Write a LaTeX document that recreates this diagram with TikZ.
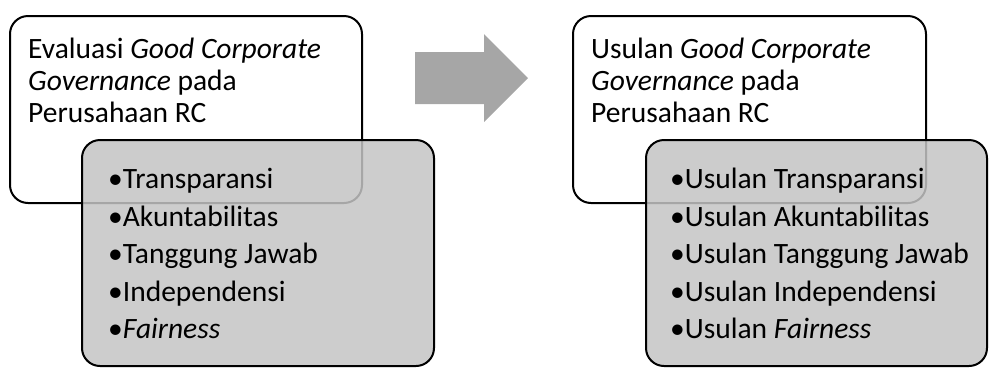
\documentclass[tikz,border=0pt]{standalone}
\usepackage{fontspec}
\setmainfont{Carlito}
\begin{document}
\begin{tikzpicture}[x=1pt,y=-1pt,
  whitebox/.style={draw=black,line width=2pt,rounded corners=18pt,fill=white},
  greybox/.style={draw=black,line width=2pt,rounded corners=18pt,fill={rgb,255:red,196;green,196;blue,196},fill opacity=0.85},
  txt/.style={anchor=base west,inner sep=0pt,font=\fontsize{29.5}{32}\selectfont}]
\useasboundingbox (0,0) rectangle (989,368);
% left
\draw[whitebox] (10,16) rectangle (362,203);
\node[txt] (l1) at (28,58) {Evaluasi \textit{Good Corporate}};
\node[txt] (l2) at (28,90) {\textit{Governance} pada};
\node[txt] (l3) at (28,122) {Perusahaan RC};
\draw[greybox] (82,140) rectangle (434,366);
\node[txt] (lb1) at (108,188) {•Transparansi};
\node[txt] (lb2) at (108,226) {•Akuntabilitas};
\node[txt] (lb3) at (108,263) {•Tanggung Jawab};
\node[txt] (lb4) at (108,301) {•Independensi};
\node[txt] (lb5) at (108,338) {•\textit{Fairness}};
% arrow
\fill[fill={rgb,255:red,166;green,166;blue,166}] (415,52) -- (484,52) -- (484,34) -- (528,78) -- (484,122) -- (484,104) -- (415,104) -- cycle;
% right
\draw[whitebox] (573,16) rectangle (926,203);
\node[txt] (r1) at (591,58) {Usulan \textit{Good Corporate}};
\node[txt] (r2) at (591,90) {\textit{Governance} pada};
\node[txt] (r3) at (591,122) {Perusahaan RC};
\draw[greybox] (646,140) rectangle (987,366);
\node[txt] (rb1) at (670,188) {•Usulan Transparansi};
\node[txt] (rb2) at (670,226) {•Usulan Akuntabilitas};
\node[txt] (rb3) at (670,263) {•Usulan Tanggung Jawab};
\node[txt] (rb4) at (670,301) {•Usulan Independensi};
\node[txt] (rb5) at (670,338) {•Usulan \textit{Fairness}};
\end{tikzpicture}
\end{document}
